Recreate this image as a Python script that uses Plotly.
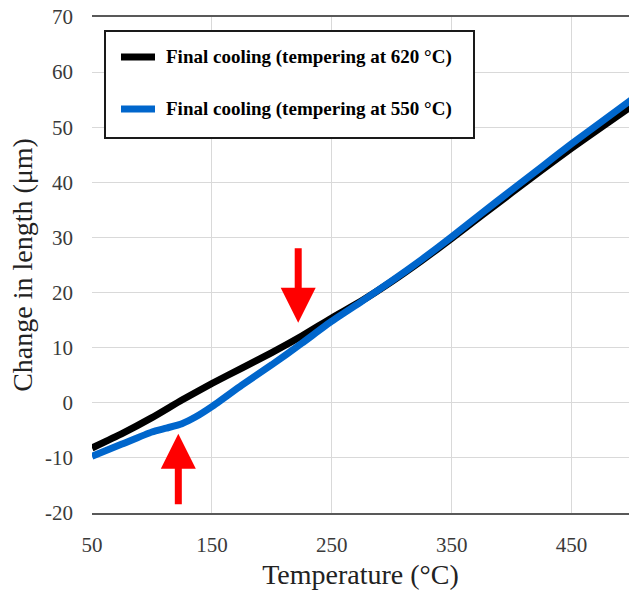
import plotly.graph_objects as go

# ---- data ----
series_names = ["Final cooling (tempering at 620 °C)", "Final cooling (tempering at 550 °C)"]

temp_620 = [50, 75, 100, 125, 150, 175, 200, 225, 250, 275, 300, 325, 350, 375, 400, 425, 450, 475, 500]
len_620 = [-8.2, -5.6, -2.7, 0.5, 3.5, 6.3, 9.1, 12.1, 15.4, 18.5, 22.0, 25.8, 29.8, 34.0, 38.1, 42.2, 46.2, 50.0, 53.8]

temp_550 = [50, 75, 100, 112, 125, 137, 150, 175, 200, 225, 250, 275, 300, 325, 350, 375, 400, 425, 450, 475, 500]
len_550 = [-9.7, -7.5, -5.3, -4.6, -3.8, -2.5, -0.7, 3.2, 6.9, 10.8, 14.8, 18.4, 22.1, 26.0, 30.1, 34.4, 38.6, 42.8, 47.0, 51.0, 55.0]

x_ticks = [50, 150, 250, 350, 450]
y_ticks = [-20, -10, 0, 10, 20, 30, 40, 50, 60, 70]
y_tick_labels = ["-20", "-10", "0", "10", "20", "30", "40", "50", "60", "70"]

# red arrows: (tip x, tip y, tail x, tail y)
arrow_up = (122, -5.6, 122, -18.7)
arrow_down = (222, 14.5, 222, 28.3)

colors = ["#000000", "#0066CC"]

# ---- figure ----
W, H = 629, 590
ML, MR, MT, MB = 92, 0, 17, 77
PW, PH = W - ML - MR, H - MT - MB


def px_x(px):
    return (px - ML) / PW


def px_y(py):
    return (H - MB - py) / PH


fig = go.Figure()
fig.add_trace(go.Scatter(x=temp_620, y=len_620, mode="lines", name=series_names[0],
                         line=dict(color=colors[0], width=7, shape="spline", smoothing=0.5)))
fig.add_trace(go.Scatter(x=temp_550, y=len_550, mode="lines", name=series_names[1],
                         line=dict(color=colors[1], width=7, shape="spline", smoothing=0.5)))

font_fam = "Liberation Serif, Times New Roman, serif"

fig.update_layout(
    width=W, height=H,
    margin=dict(l=ML, r=MR, t=MT, b=MB),
    plot_bgcolor="white", paper_bgcolor="white",
    showlegend=False,
    font=dict(family=font_fam),
)
fig.update_xaxes(
    range=[50, 50 + (W - ML + 0.5) / 1.2], tickmode="array", tickvals=x_ticks,
    showgrid=True, gridcolor="#D9D9D9", gridwidth=1.3,
    showline=True, linecolor="#595959", linewidth=1.5, mirror=True,
    zeroline=False, ticks="", ticklabelstandoff=12,
    tickfont=dict(family=font_fam, size=21, color="#3a3a3a"),
    title=dict(text="Temperature (°C)", font=dict(family=font_fam, size=28, color="#222222"), standoff=8),
)
fig.update_yaxes(
    range=[-20, 70], tickmode="array", tickvals=y_ticks, ticktext=y_tick_labels,
    showgrid=True, gridcolor="#D9D9D9", gridwidth=1.3,
    showline=False, zeroline=False, ticks="", ticklabelstandoff=18,
    tickfont=dict(family=font_fam, size=21, color="#3a3a3a"),
    title=dict(text="Change in length (μm)", font=dict(family=font_fam, size=28, color="#222222"), standoff=4),
)

# arrows
for tip_x, tip_y, tail_x, tail_y in (arrow_up, arrow_down):
    fig.add_annotation(x=tip_x, y=tip_y, ax=tail_x, ay=tail_y, xref="x", yref="y",
                       axref="x", ayref="y", text="", showarrow=True,
                       arrowhead=2, arrowsize=1.0, arrowwidth=7, arrowcolor="#FF0000", standoff=0)

# legend box drawn by hand (exact placement as reference)
fig.add_shape(type="rect", xref="paper", yref="paper",
              x0=px_x(105), x1=px_x(474), y0=px_y(138), y1=px_y(31),
              line=dict(color="#1a1a1a", width=2), fillcolor="white", layer="above")
for i, py in enumerate([57, 109]):
    fig.add_shape(type="line", xref="paper", yref="paper",
                  x0=px_x(121), x1=px_x(155), y0=px_y(py), y1=px_y(py),
                  line=dict(color=colors[i], width=7), layer="above")
    fig.add_annotation(x=px_x(164), y=px_y(py), xref="paper", yref="paper",
                       text="<b>" + series_names[i] + "</b>", showarrow=False,
                       xanchor="left", yanchor="middle",
                       font=dict(family=font_fam, size=19, color="#000000"))

fig.write_html("out.html", config={"displayModeBar": False},
               post_script="document.body.style.margin='0';document.body.style.overflow='hidden';")
